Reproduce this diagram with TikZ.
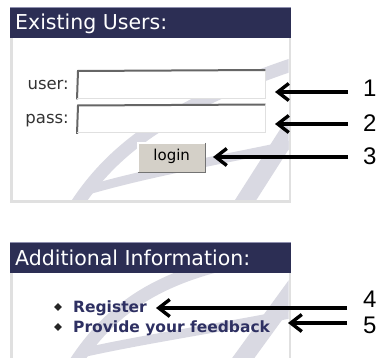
\documentclass[tikz,border=0pt]{standalone}
\usepackage{fontspec}
\setmainfont{DejaVu Sans}
\newfontfamily\numfont{Liberation Sans}
\usetikzlibrary{arrows.meta}

\definecolor{navy}{HTML}{2C2E54}
\definecolor{navyedge}{HTML}{8E8FAE}
\definecolor{linkblue}{HTML}{2E3062}
\definecolor{framegray}{HTML}{E0E0E0}
\definecolor{markgray}{HTML}{D9D9E2}
\definecolor{btnface}{HTML}{D4D0C8}
\definecolor{labelgray}{HTML}{333333}

\tikzset{
  headbar/.style={fill=navy, draw=none, minimum width=281pt, minimum height=31pt,
                  anchor=north west, inner sep=0pt},
  headtext/.style={text=white, font=\fontsize{20.5}{22}\selectfont, anchor=base west, inner sep=0pt},
  fieldbox/.style={fill=white, draw=none, minimum width=188pt, minimum height=27pt,
                   anchor=north west, inner sep=0pt},
  fieldlabel/.style={text=labelgray, font=\fontsize{16.5}{19}\selectfont, anchor=base east, inner sep=0pt},
  buttonbox/.style={fill=btnface, draw=none, minimum width=67pt, minimum height=29pt,
                    anchor=north west, inner sep=0pt},
  linktext/.style={text=linkblue, font=\bfseries\fontsize{15.5}{17}\selectfont, anchor=base west, inner sep=0pt},
  bulletmark/.style={fill=black!85, draw=none, shape=rectangle, rotate=45,
                     minimum size=5.5pt, inner sep=0pt},
  callnum/.style={font=\numfont\fontsize{24}{26}\selectfont, anchor=west, inner sep=0pt},
  pointer/.style={draw=black, line width=3.4pt,
                  -{Straight Barb[length=11pt,width=17pt]}},
  mk/.style={draw=markgray, line cap=butt},
}

\begin{document}
\begin{tikzpicture}[x=1pt,y=-1pt]
\useasboundingbox (0,0) rectangle (380,358);
\fill[white] (0,0) rectangle (380,358);

% ---------- login panel ----------
\begin{scope}
  \clip (12.5,38) rectangle (288.5,201);
  \draw[mk, line width=13pt] (72,212) .. controls (110,150) and (170,105) .. (300,62);
  \draw[mk, line width=9pt] (88,190) .. controls (150,172) and (220,160) .. (300,143);
  \draw[mk, line width=18pt] (238,212) -- (298,118);
\end{scope}
\draw[framegray, line width=2.5pt] (11.25,37) rectangle (289.75,201.75);

\node[headbar] (h1) at (10,7) {};
\draw[navyedge, line width=0.8pt] (h1.north west) -- (h1.north east);
\node[headtext] (t1) at (15,30) {Existing Users:};

\node[fieldbox] (f1) at (77,71) {};
\draw[black!60, line width=2pt] ([yshift=-1pt]f1.south west) -- ([xshift=1pt]f1.north west) -- ([yshift=1pt]f1.north east);
\draw[black!12, line width=1pt] (f1.north east) -- (f1.south east) -- (f1.south west);
\node[fieldlabel] (l1) at (69,90) {user:};

\node[fieldbox] (f2) at (77,105.5) {};
\draw[black!60, line width=2pt] ([yshift=-1pt]f2.south west) -- ([xshift=1pt]f2.north west) -- ([yshift=1pt]f2.north east);
\draw[black!12, line width=1pt] (f2.north east) -- (f2.south east) -- (f2.south west);
\node[fieldlabel] (l2) at (69,124) {pass:};

\node[buttonbox] (btn) at (138,143) {};
\draw[white, line width=1.2pt] (btn.south west) -- (btn.north west) -- (btn.north east);
\draw[black!55, line width=1.6pt] (btn.north east) -- (btn.south east) -- (btn.south west);
\node[font=\fontsize{15}{17}\selectfont, inner sep=0pt] (bt) at ([yshift=1pt]btn.center) {login};

% ---------- information panel ----------
\begin{scope}
  \clip (12.5,273) rectangle (288.5,358);
  \draw[mk, line width=13pt] (72,368) .. controls (105,315) and (150,280) .. (232,262);
  \draw[mk, line width=9pt] (86,352) .. controls (150,338) and (220,328) .. (300,312);
  \draw[mk, line width=18pt] (236,368) -- (300,280);
\end{scope}
\draw[framegray, line width=2.5pt] (11.25,272) -- (11.25,360);
\draw[framegray, line width=2.5pt] (289.75,272) -- (289.75,360);

\node[headbar] (h2) at (10,242) {};
\draw[navyedge, line width=0.8pt] (h2.north west) -- (h2.north east);
\node[headtext] (t2) at (15,265) {Additional Information:};

\node[bulletmark] (d1) at (58,307) {};
\node[linktext] (r1) at (73,312) {Register};
\node[bulletmark] (d2) at (58,327) {};
\node[linktext] (r2) at (73,332) {Provide your feedback};

% ---------- callouts ----------
\node[callnum] (n1) at (363,88) {1};
\node[callnum] (n2) at (363,123) {2};
\node[callnum] (n3) at (363,156) {3};
\node[callnum] (n4) at (363,299.5) {4};
\node[callnum] (n5) at (363,325) {5};

\coordinate (a1) at (348,92);   \coordinate (b1) at (275,92);
\coordinate (a2) at (348,124);  \coordinate (b2) at (275,124);
\coordinate (a3) at (348,157);  \coordinate (b3) at (213,157);
\coordinate (a4) at (347,308);  \coordinate (b4) at (156,308);
\coordinate (a5) at (347,323);  \coordinate (b5) at (288,323);

\draw[pointer] (a1) -- (b1);
\draw[pointer] (a2) -- (b2);
\draw[pointer] (a3) -- (b3);
\draw[pointer] (a4) -- (b4);
\draw[pointer] (a5) -- (b5);
\end{tikzpicture}
\end{document}
